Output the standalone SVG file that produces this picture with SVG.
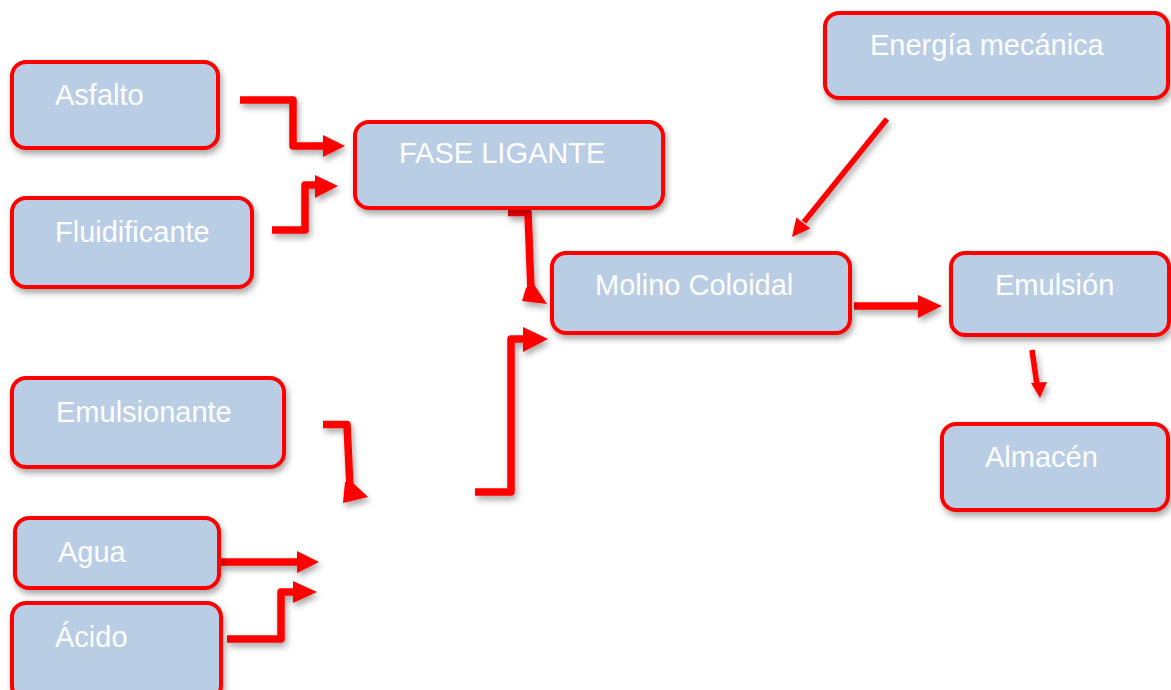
<svg xmlns="http://www.w3.org/2000/svg" width="1171" height="690" viewBox="0 0 1171 690">
  <defs>
    <filter id="sh" x="-20%" y="-20%" width="140%" height="150%">
      <feDropShadow dx="2" dy="4" stdDeviation="3" flood-color="#000" flood-opacity="0.35"/>
    </filter>
    <style>
      .box { fill: #B9CDE4; stroke: #FF0000; stroke-width: 4; filter: url(#sh); }
      .lbl { fill: #FFFFFF; font-family: "Liberation Sans", Arial, sans-serif; font-size: 29px; }
      .ln { fill: none; stroke: #FF0000; stroke-width: 7.5; stroke-linejoin: round; }
      .thin { stroke-width: 5.5; }
      .hd { fill: #FF0000; stroke: none; }
      .conn { filter: url(#sh); }
    </style>
  </defs>
  <rect width="1171" height="690" fill="#FFFFFF"/>

  <g id="connectors" class="conn">
    <!-- Asfalto -> FASE LIGANTE -->
    <path class="ln" d="M240,100 H293 V146 H325"/>
    <polygon class="hd" points="323,135 345,146 323,157"/>
    <!-- Fluidificante -> FASE LIGANTE -->
    <path class="ln" d="M272,230 H305 V185 H317"/>
    <polygon class="hd" points="315,175 338,186 315,198"/>
    <!-- FASE LIGANTE -> Molino -->
    <path class="ln" d="M508,212.5 H528 L531,290"/>
    <polygon class="hd" points="526,288 533,283 547,304 522,301"/>
    <!-- Emulsionante bracket -->
    <path class="ln" d="M323,424.5 H347 L350,488"/>
    <polygon class="hd" points="345,482 353,483 368,497 343,503"/>
    <!-- lower group -> Molino -->
    <path class="ln" d="M475,492 H511 V339 H526"/>
    <polygon class="hd" points="523,327 548,339 523,352"/>
    <!-- Agua -->
    <path class="ln" d="M219,562 H299"/>
    <polygon class="hd" points="297,551 319,562 297,573"/>
    <!-- Ácido -->
    <path class="ln" d="M227,639 H281 V592 H295"/>
    <polygon class="hd" points="293,581 317,592 293,603"/>
    <!-- Energía mecánica -> Molino -->
    <path class="ln thin" d="M887,119 L804,222"/>
    <polygon class="hd" points="810.3,228.6 792,237 796.3,217.4"/>
    <!-- Molino -> Emulsión -->
    <path class="ln" d="M854,306 H920"/>
    <polygon class="hd" points="918,295 942,306 918,318"/>
    <!-- Emulsión -> Almacén -->
    <path class="ln thin" d="M1032,350 L1037,385"/>
    <polygon class="hd" points="1031,383 1040,398 1047,382"/>
  </g>

  <g id="asfalto">
    <rect class="box" x="12" y="62" width="206" height="86" rx="14"/>
    <text class="lbl" x="55" y="105">Asfalto</text>
  </g>
  <g id="fluidificante">
    <rect class="box" x="12" y="198" width="240" height="89" rx="14"/>
    <text class="lbl" x="55" y="242">Fluidificante</text>
  </g>
  <g id="fase-ligante">
    <rect class="box" x="355" y="122" width="308" height="86" rx="14"/>
    <text class="lbl" x="399" y="163">FASE LIGANTE</text>
  </g>
  <g id="molino">
    <rect class="box" x="552" y="253" width="298" height="80" rx="14"/>
    <text class="lbl" x="595" y="295">Molino Coloidal</text>
  </g>
  <g id="energia">
    <rect class="box" x="825" y="13" width="343" height="85" rx="14"/>
    <text class="lbl" x="870" y="55">Energía mecánica</text>
  </g>
  <g id="emulsion">
    <rect class="box" x="951" y="253" width="218" height="82" rx="14"/>
    <text class="lbl" x="995" y="295">Emulsión</text>
  </g>
  <g id="almacen">
    <rect class="box" x="942" y="424" width="226" height="86" rx="14"/>
    <text class="lbl" x="985" y="467">Almacén</text>
  </g>
  <g id="emulsionante">
    <rect class="box" x="12" y="378" width="272" height="89" rx="14"/>
    <text class="lbl" x="56" y="422">Emulsionante</text>
  </g>
  <g id="agua">
    <rect class="box" x="15" y="518" width="204" height="70" rx="14"/>
    <text class="lbl" x="58" y="562">Agua</text>
  </g>
  <g id="acido">
    <rect class="box" x="12" y="603" width="209" height="97" rx="14"/>
    <text class="lbl" x="55" y="647">Ácido</text>
  </g>
</svg>
